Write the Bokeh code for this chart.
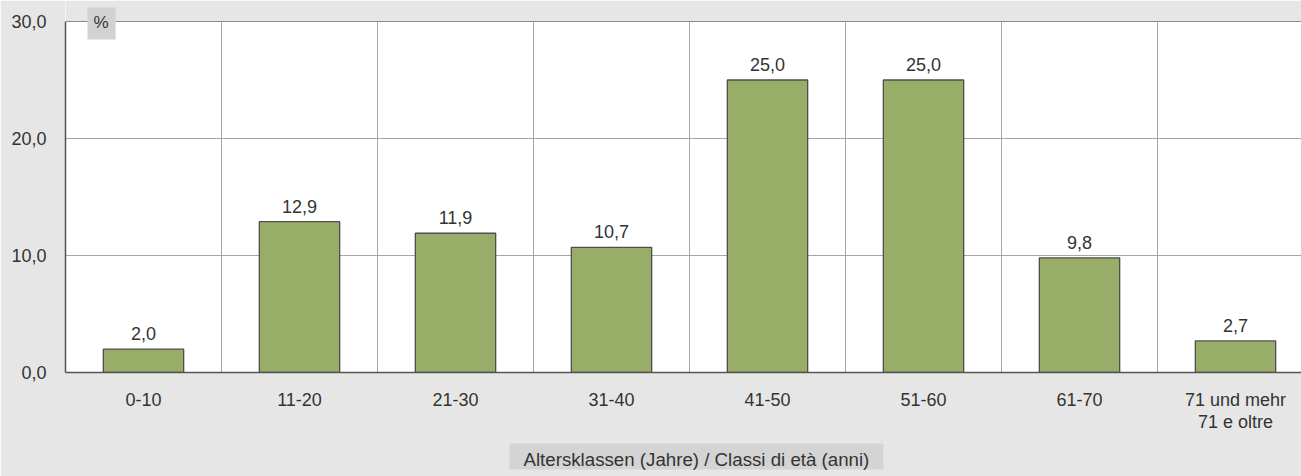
from bokeh.plotting import figure
from bokeh.models import Range1d, FixedTicker, Label, Title, BoxAnnotation, Span
from bokeh.core.properties import value
from bokeh.embed import file_html
from bokeh.resources import INLINE

categories = ["0-10", "11-20", "21-30", "31-40", "41-50", "51-60", "61-70", "71 und mehr\n71 e oltre"]
values = [2.0, 12.9, 11.9, 10.7, 25.0, 25.0, 9.8, 2.7]
y_ticks = [0, 10, 20, 30]
y_tick_labels = ["0,0", "10,0", "20,0", "30,0"]
unit_label = "%"
x_title = "Altersklassen (Jahre) / Classi di età (anni)"

FONT = "Liberation Sans"
TXT = "#333333"
BG = "#e6e6e6"

value_labels = [f"{v:.1f}".replace(".", ",") for v in values]
xs = [i + 0.5 for i in range(len(categories))]
y_max = y_ticks[-1]

p = figure(width=1301, height=476, x_range=Range1d(0, 7.923), y_range=Range1d(0, y_max * 1.0598),
           output_backend="svg", toolbar_location=None,
           min_border_left=65, min_border_right=0, min_border_top=0, min_border_bottom=104)
p.background_fill_color = "white"
p.border_fill_color = BG
p.outline_line_color = None

p.vbar(x=xs, top=values, width=0.515, fill_color="#98ae68", line_color="#4f4f4f", line_width=1.3)
p.text(x=xs, y=values, text=value_labels, text_align="center", text_baseline="bottom",
       y_offset=-9, text_font=value(FONT), text_font_size="18px", text_color=TXT)

# axes
p.xaxis.ticker = FixedTicker(ticks=xs)
p.xaxis.major_label_overrides = {x: c for x, c in zip(xs, categories)}
p.xaxis.major_tick_line_color = None
p.xaxis.minor_tick_line_color = None
p.xaxis.axis_line_color = "#555555"
p.xaxis.axis_line_width = 1.5
p.xaxis.major_label_standoff = 11
p.xaxis.major_label_text_font = FONT
p.xaxis.major_label_text_font_size = "18px"
p.xaxis.major_label_text_color = TXT
p.xaxis.major_label_text_line_height = 1.1

p.yaxis.ticker = FixedTicker(ticks=y_ticks)
p.yaxis.bounds = (0, y_max)
p.yaxis.major_label_overrides = {t: l for t, l in zip(y_ticks, y_tick_labels)}
p.yaxis.major_tick_line_color = None
p.yaxis.minor_tick_line_color = None
p.yaxis.axis_line_color = "#555555"
p.yaxis.axis_line_width = 1.5
p.yaxis.major_label_standoff = 13
p.yaxis.major_label_text_font = FONT
p.yaxis.major_label_text_font_size = "18px"
p.yaxis.major_label_text_color = TXT

# grids
p.xgrid.ticker = FixedTicker(ticks=list(range(1, len(categories))))
p.xgrid.grid_line_color = "#a6a6a6"
p.xgrid.grid_line_width = 1
p.ygrid.ticker = FixedTicker(ticks=y_ticks[1:-1])
p.ygrid.grid_line_color = "#a6a6a6"
p.ygrid.grid_line_width = 1

# grey band above the top of the value axis, and the top border line
p.add_layout(BoxAnnotation(bottom=y_max, fill_color=BG, fill_alpha=1, line_color=None))
p.add_layout(Span(location=y_max, dimension="width", line_color="#8c8c8c", line_width=1.2))

# unit label box
p.add_layout(Label(x=0.231, y=29.83, text=unit_label, text_align="center", text_baseline="middle",
                   text_font=FONT, text_font_size="17px", text_color=TXT,
                   background_fill_color="#d2d2d2", padding=(6, 7, 6, 7)))

# x axis title box  (padding order: left, right, top, bottom)
p.add_layout(Title(text=x_title, align="left", offset=444, standoff=14,
                   text_font=FONT, text_font_size="18.7px", text_font_style="normal", text_color=TXT,
                   background_fill_color="#d4d4d4", padding=(14, 14, 5, 0)), "below")

open("out.html", "w").write(file_html(p, INLINE))
